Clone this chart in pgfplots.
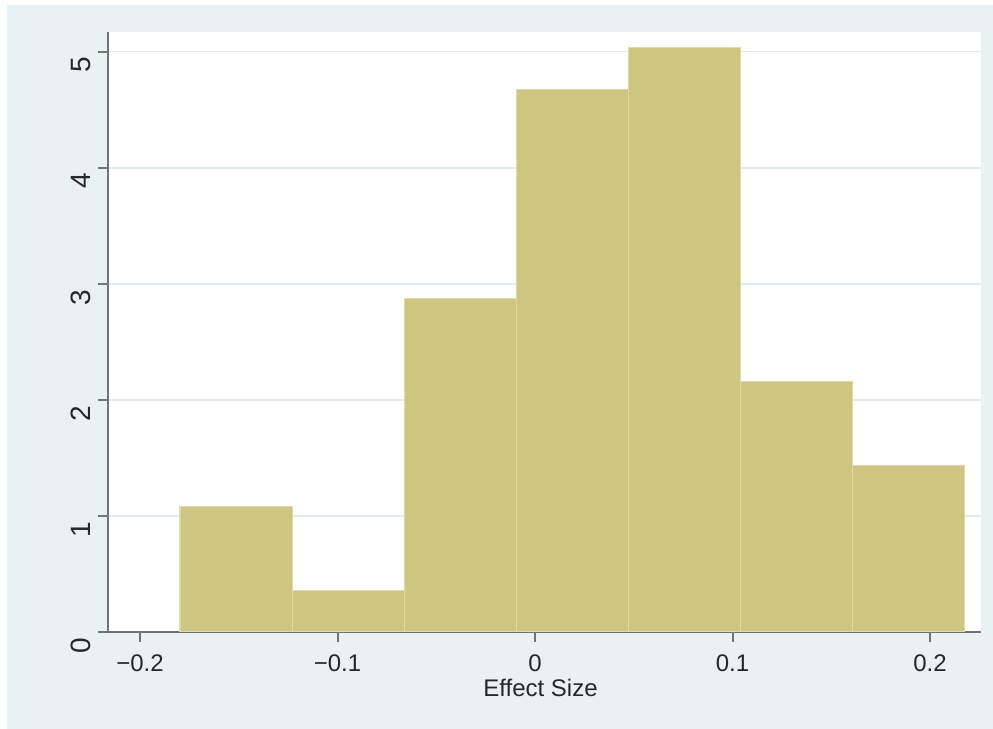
\documentclass[border=0pt]{standalone}
\usepackage{fontspec}
\setmainfont{Liberation Sans}
\usepackage{pgfplots}
\pgfplotsset{compat=1.18}
\definecolor{bgc}{RGB}{233,241,243}
\definecolor{barc}{RGB}{205,197,128}
\definecolor{baredge}{RGB}{224,218,170}
\definecolor{gridc}{RGB}{226,235,238}
\definecolor{axc}{RGB}{115,115,115}
\definecolor{txtc}{RGB}{40,40,40}
\begin{document}
\begin{tikzpicture}
\useasboundingbox (-54pt,-48.5pt) rectangle (442.5pt,316pt);
\fill[white] (-54pt,-48.5pt) rectangle (442.5pt,316pt);
\fill[bgc] (-50.5pt,-48.5pt) rectangle (442.5pt,313.5pt);
\begin{axis}[
  at={(0,0)}, anchor=south west,
  width=436.5pt, height=300pt, scale only axis,
  xmin=-0.2162, xmax=0.2258, ymin=0, ymax=5.17,
  axis background/.style={fill=white},
  axis x line*=bottom, axis y line*=left,
  axis line style={axc, line width=1pt, -},
  tick align=outside, major tick length=5pt,
  tick style={axc, line width=1pt},
  xtick={-0.2,-0.1,0,0.1,0.2},
  xticklabels={−0.2,−0.1,0,0.1,0.2},
  ytick={0,1,2,3,4,5},
  yticklabels={0,1,2,3,4,5},
  xticklabel style={font=\fontsize{12}{14}\selectfont, text=txtc, anchor=north, yshift=-3pt},
  yticklabel style={font=\fontsize{14}{16}\selectfont, text=txtc, rotate=90, anchor=south, xshift=-6.7pt},
  ymajorgrids, grid style={gridc, line width=0.75pt},
  xlabel={Effect Size},
  xlabel style={font=\fontsize{12}{14}\selectfont, text=txtc, at={(axis description cs:0.5,0)}, anchor=north, yshift=-20pt, xshift=-2pt},
]
\addplot[ybar interval, fill=barc, draw=baredge, line width=0.6pt] coordinates {
  (-0.1797,1.0787) (-0.1229,0.3596) (-0.0662,2.876) (-0.0094,4.674)
  (0.0474,5.034) (0.1041,2.157) (0.1609,1.438) (0.2176,1.438)
};
\end{axis}
\end{tikzpicture}
\end{document}
